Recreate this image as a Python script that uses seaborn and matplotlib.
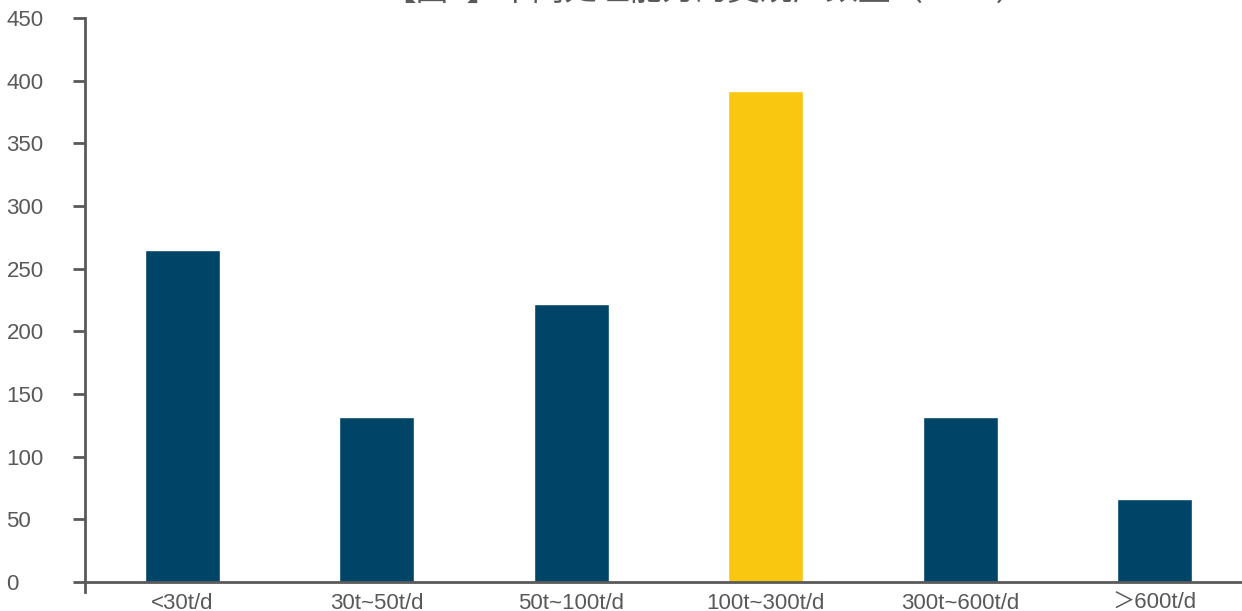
import matplotlib
matplotlib.use("Agg")
import matplotlib.pyplot as plt
import seaborn as sns
import pandas as pd

categories = ["<30t/d", "30t~50t/d", "50t~100t/d", "100t~300t/d", "300t~600t/d", "＞600t/d"]
values = [265, 132, 222, 392, 132, 66]
highlight = "100t~300t/d"
title = "【图5】不同处理能力的焚烧厂数量（2017）"

navy = "#004467"
yellow = "#FAC710"
gray = "#595959"

sns.set_theme(style="white")
plt.rcParams['font.family'] = ['Liberation Sans', 'Noto Sans CJK SC', 'DejaVu Sans']

df = pd.DataFrame({"cat": categories, "val": values})
palette = {c: (yellow if c == highlight else navy) for c in categories}

fig = plt.figure(figsize=(12.42, 6.11), dpi=100)
ax = fig.add_axes([85/1242, 1 - 582/611, (1252 - 85)/1242, (582 - 18)/611])

sns.barplot(data=df, x="cat", y="val", hue="cat", palette=palette, legend=False,
            width=0.386, ax=ax, saturation=1)

ax.set_xlim(-0.5, 5.5)
ax.set_ylim(0, 450)
ax.set_yticks(range(0, 451, 50))
ax.set_xlabel("")
ax.set_ylabel("")

for s in ["top", "right"]:
    ax.spines[s].set_visible(False)
for s in ["left", "bottom"]:
    ax.spines[s].set_color(gray)
    ax.spines[s].set_linewidth(2)
ax.spines["left"].set_bounds(-8, 450)

ax.tick_params(axis="y", direction="out", length=9, width=2, color=gray,
               labelcolor=gray, labelsize=16, pad=47.5, left=True)
ax.tick_params(axis="x", length=0, labelcolor=gray, labelsize=16, pad=8)
for lbl in ax.get_yticklabels():
    lbl.set_horizontalalignment("left")

fig.text(706/1242, 1 - 8/611, title, ha="center", va="bottom", fontsize=23.5,
         color=gray, family=['Noto Sans CJK SC', 'DejaVu Sans'])

fig.savefig("out.png", dpi=100)
